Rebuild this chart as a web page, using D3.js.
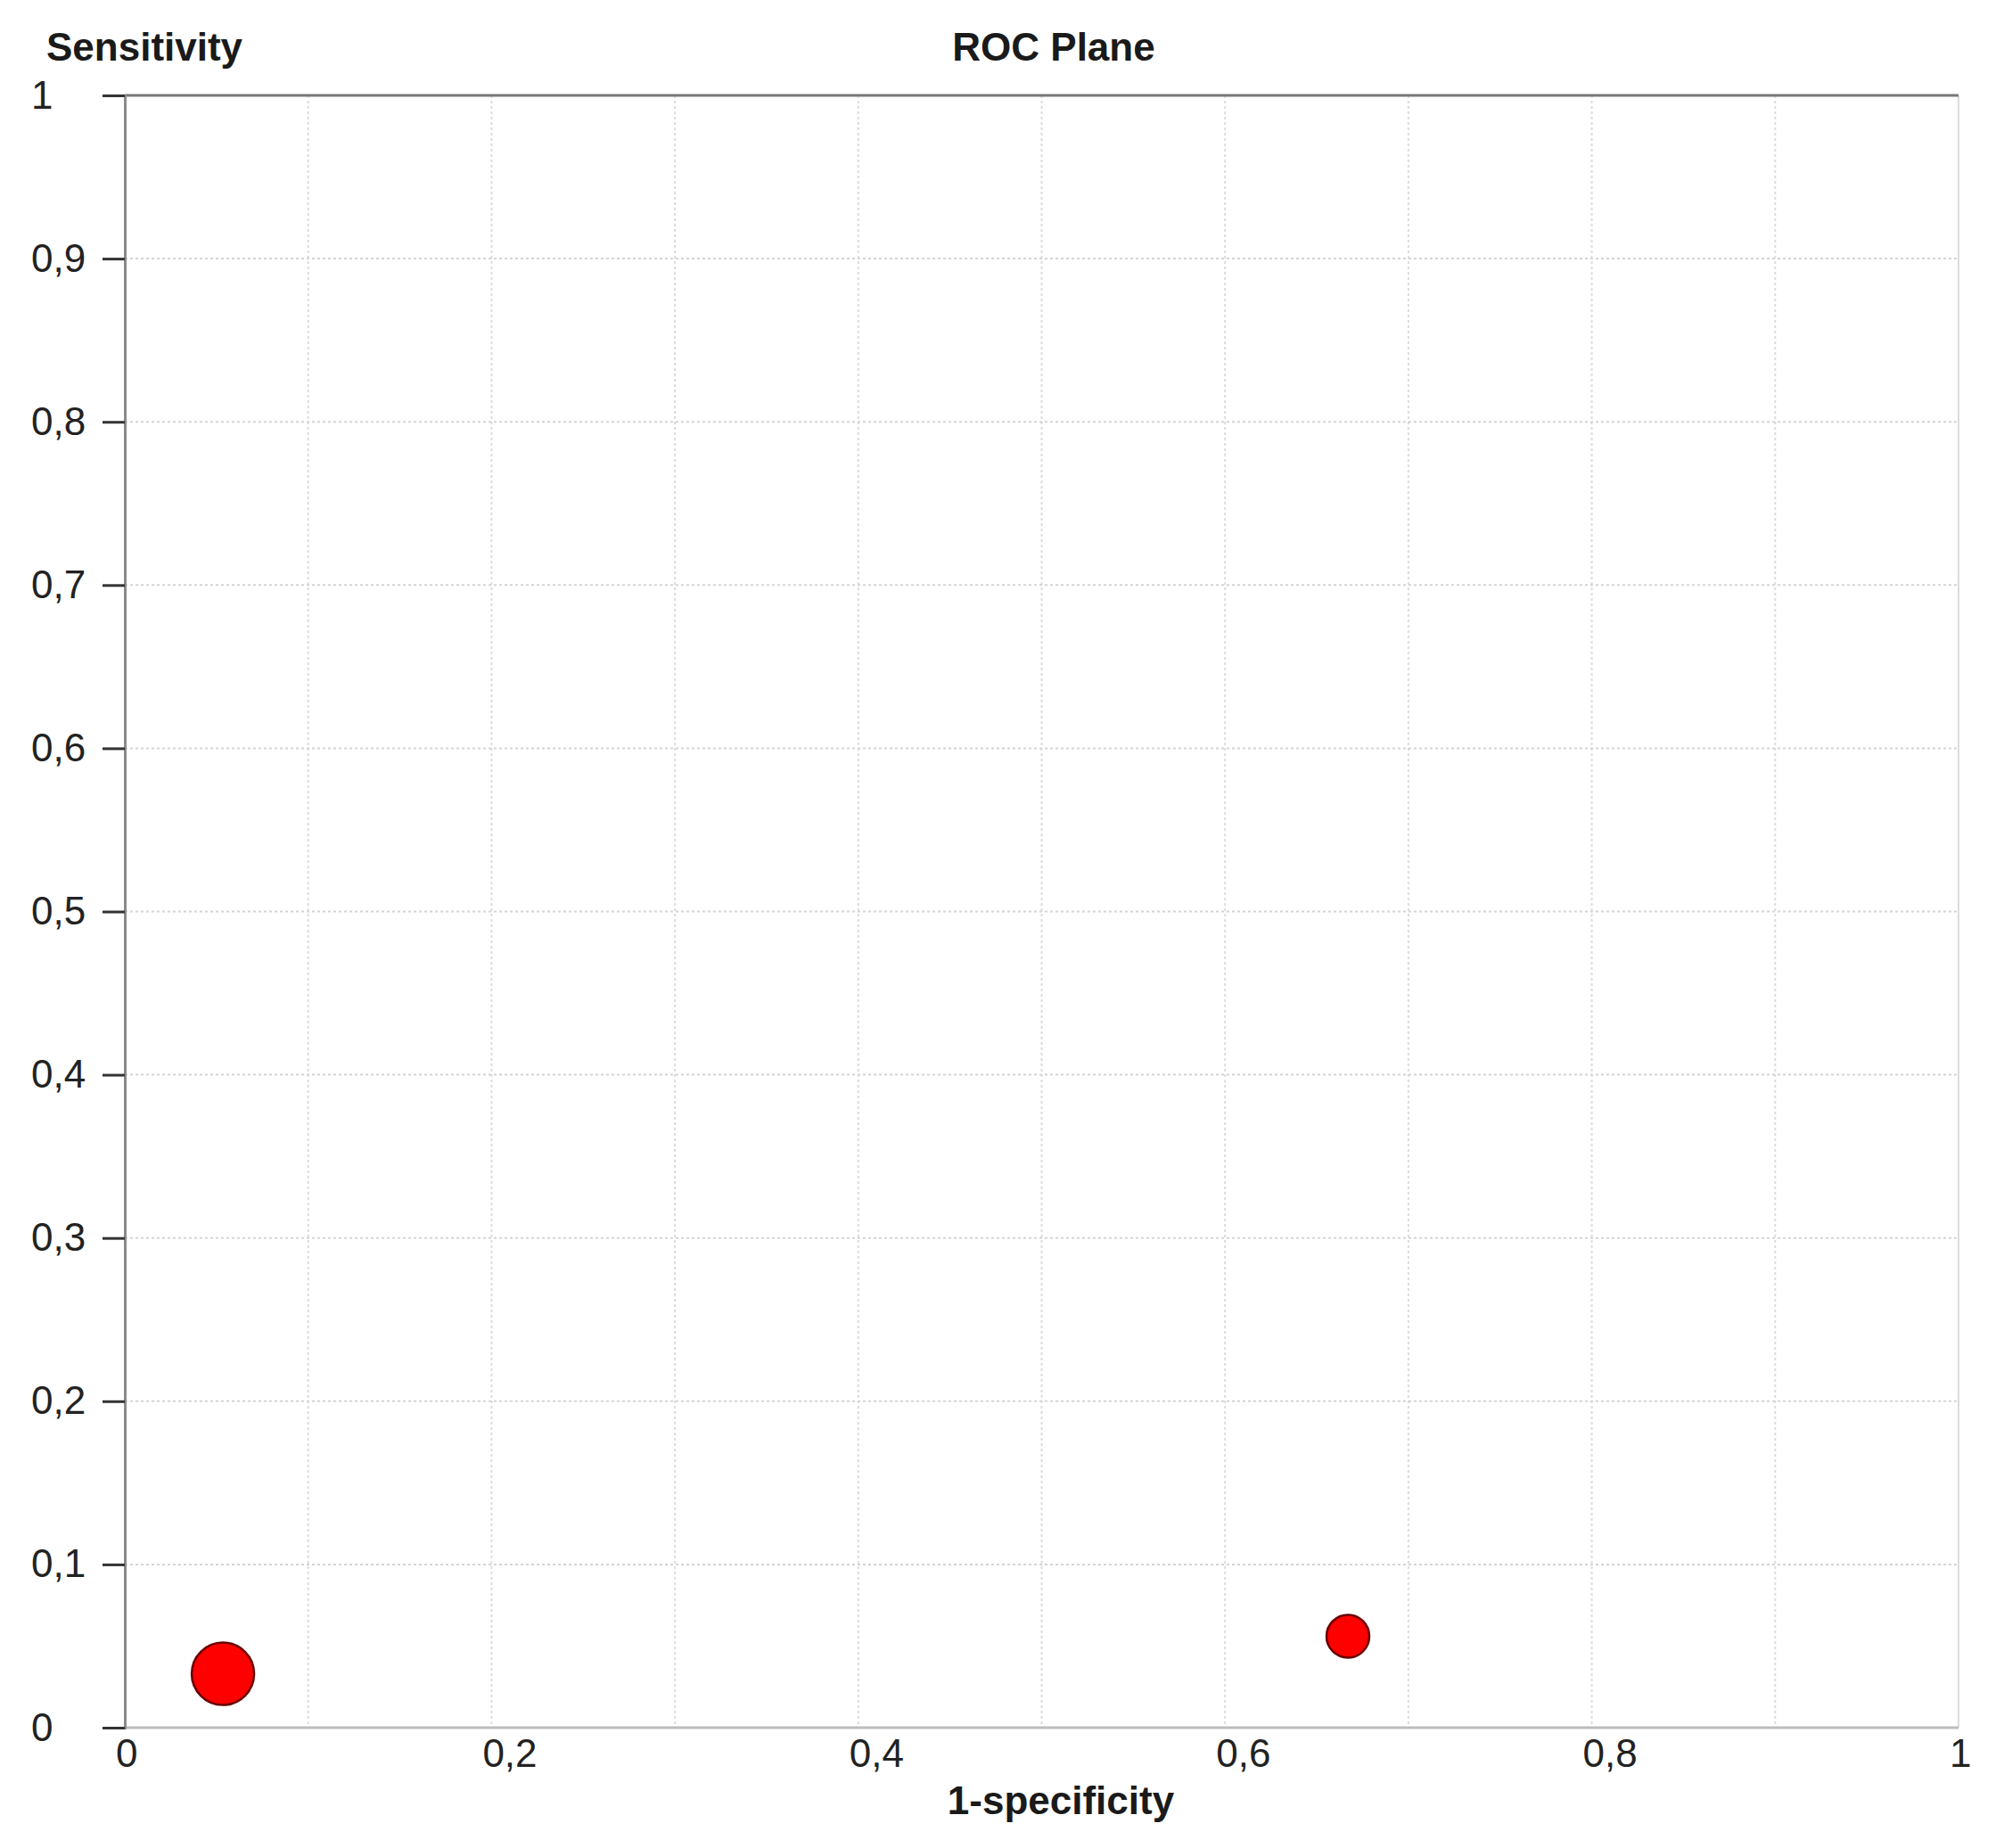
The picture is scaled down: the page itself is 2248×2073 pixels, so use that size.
<!DOCTYPE html>
<html>
<head>
<meta charset="utf-8">
<script src="https://cdn.jsdelivr.net/npm/d3@7"></script>
<style>
  body { margin: 0; background: #fff; }
  text { font-family: "Liberation Sans", Arial, sans-serif; }
</style>
</head>
<body>
<div id="chart"></div>
<script>
var studies = ["Study A", "Study B"];
var fpr = [0.0535, 0.667];          // 1-specificity
var tpr = [0.033, 0.056];           // sensitivity
var weights = [100, 47];            // relative bubble weight
var yTicks = [0, 0.1, 0.2, 0.3, 0.4, 0.5, 0.6, 0.7, 0.8, 0.9, 1];
var xTicks = [0, 0.2, 0.4, 0.6, 0.8, 1];
var xGrid = [0.1, 0.2, 0.3, 0.4, 0.5, 0.6, 0.7, 0.8, 0.9];

var margin = {top: 107, right: 51, bottom: 135, left: 140},
  width = 2248 - margin.left - margin.right,
  height = 2073 - margin.top - margin.bottom;

var fmt = function(d) { return String(d).replace(".", ","); };

var svg = d3.select("#chart")
  .append("svg")
    .attr("width", 2248)
    .attr("height", 2073)
  .append("g")
    .attr("transform", "translate(" + margin.left + "," + margin.top + ")");

var x = d3.scaleLinear().domain([0, 1]).range([0, width]);
var y = d3.scaleLinear().domain([0, 1]).range([height, 0]);
var r = d3.scaleSqrt().domain([0, 100]).range([0, 35]);

// grid
svg.append("g").selectAll("line")
  .data(xGrid)
  .enter().append("line")
    .attr("x1", function(d) { return x(d); })
    .attr("x2", function(d) { return x(d); })
    .attr("y1", 0)
    .attr("y2", height)
    .attr("stroke", "#dcdcdc")
    .attr("stroke-width", 2)
    .attr("stroke-dasharray", "3,3");

svg.append("g").selectAll("line")
  .data(yTicks.filter(function(d) { return d > 0 && d < 1; }))
  .enter().append("line")
    .attr("x1", 0)
    .attr("x2", width)
    .attr("y1", function(d) { return y(d); })
    .attr("y2", function(d) { return y(d); })
    .attr("stroke", "#d4d4d4")
    .attr("stroke-width", 2)
    .attr("stroke-dasharray", "3,3");

// frame
svg.append("line").attr("x1", width).attr("x2", width).attr("y1", 0).attr("y2", height)
  .attr("stroke", "#dcdcdc").attr("stroke-width", 2);
svg.append("line").attr("x1", 0).attr("x2", width).attr("y1", height).attr("y2", height)
  .attr("stroke", "#bdbdbd").attr("stroke-width", 3);
svg.append("line").attr("x1", 0).attr("x2", width).attr("y1", 0).attr("y2", 0)
  .attr("stroke", "#777").attr("stroke-width", 3);

// y axis
var yAxis = svg.append("g")
  .call(d3.axisLeft(y).tickValues(yTicks).tickFormat(fmt).tickSize(25));
yAxis.select(".domain").attr("stroke", "#8a8a8a").attr("stroke-width", 3);
yAxis.selectAll(".tick line").attr("stroke", "#333").attr("stroke-width", 3);
// labels sit flush left in the original
yAxis.selectAll(".tick text")
  .attr("x", 35 - margin.left)
  .attr("text-anchor", "start")
  .attr("font-size", "44px")
  .attr("fill", "#222")
  .style("font-family", "Liberation Sans, Arial, sans-serif");

// x axis labels (start-anchored a bit left of the tick, like the original)
svg.append("g").selectAll("text")
  .data(xTicks)
  .enter().append("text")
    .attr("x", function(d) { return x(d) - 10; })
    .attr("y", height + 44)
    .attr("font-size", "44px")
    .attr("fill", "#222")
    .text(fmt);

// titles
svg.append("text")
  .attr("x", 52 - margin.left)
  .attr("y", 68 - margin.top)
  .attr("font-size", "44px")
  .attr("font-weight", "bold")
  .attr("fill", "#1a1a1a")
  .text("Sensitivity");

svg.append("text")
  .attr("x", 1182 - margin.left)
  .attr("y", 68 - margin.top)
  .attr("text-anchor", "middle")
  .attr("font-size", "44px")
  .attr("font-weight", "bold")
  .attr("fill", "#1a1a1a")
  .text("ROC Plane");

svg.append("text")
  .attr("x", 1190 - margin.left)
  .attr("y", height + 97)
  .attr("text-anchor", "middle")
  .attr("font-size", "44px")
  .attr("font-weight", "bold")
  .attr("fill", "#1a1a1a")
  .text("1-specificity");

// points
svg.append("g").selectAll("circle")
  .data(studies)
  .enter().append("circle")
    .attr("cx", function(d, i) { return x(fpr[i]); })
    .attr("cy", function(d, i) { return y(tpr[i]); })
    .attr("r", function(d, i) { return r(weights[i]); })
    .attr("fill", "#ff0000")
    .attr("stroke", "#6a0000")
    .attr("stroke-width", 2.5);
</script>
</body>
</html>
